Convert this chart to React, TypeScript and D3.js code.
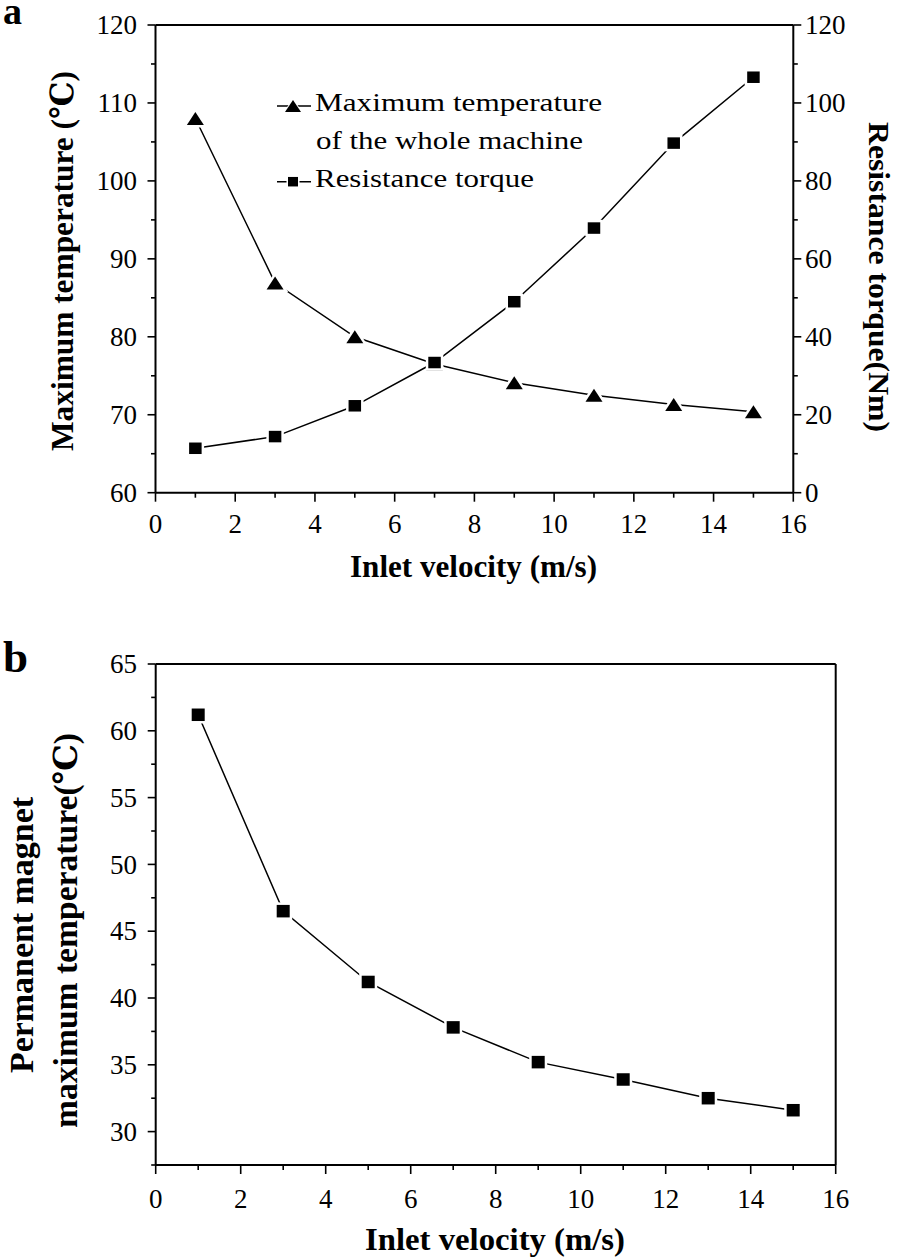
import React from "react";
import * as d3 from "d3";

// ---------- data ----------
const velocity = [1, 3, 5, 7, 9, 11, 13, 15];
const maxTempWhole = [108, 86.9, 80, 76.5, 74.1, 72.5, 71.3, 70.4];
const resistanceTorque = [11.4, 14.4, 22.3, 33.4, 49.0, 67.9, 89.7, 106.6];
const pmMaxTemp = [61.2, 46.5, 41.2, 37.8, 35.2, 33.9, 32.5, 31.6];

const xTicks = [0, 2, 4, 6, 8, 10, 12, 14, 16];
const xMinorTicks = [1, 3, 5, 7, 9, 11, 13, 15];
const leftTicksA = [60, 70, 80, 90, 100, 110, 120];
const leftMinorA = [65, 75, 85, 95, 105, 115];
const rightTicksA = [0, 20, 40, 60, 80, 100, 120];
const rightMinorA = [10, 30, 50, 70, 90, 110];
const leftTicksB = [30, 35, 40, 45, 50, 55, 60, 65];
const leftMinorB = [27.5, 32.5, 37.5, 42.5, 47.5, 52.5, 57.5, 62.5];

const FONT = "'Liberation Serif', 'Times New Roman', 'DejaVu Serif', serif";

const trianglePath = (cx: number, cy: number, w = 17, h = 13) =>
  `M${cx},${cy - h / 2}L${cx + w / 2},${cy + h / 2}L${cx - w / 2},${cy + h / 2}Z`;

const Tri = ({ x, y, halo = 5, w = 17, h = 13 }: { x: number; y: number; halo?: number; w?: number; h?: number }) => (
  <path d={trianglePath(x, y, w, h)} fill="#000" stroke="#fff" strokeWidth={halo} style={{ paintOrder: "stroke" } as any} strokeLinejoin="miter" />
);
const Sq = ({ x, y, w = 12.5, h = 11.5, halo = 5 }: { x: number; y: number; w?: number; h?: number; halo?: number }) => (
  <rect x={x - w / 2} y={y - h / 2} width={w} height={h} fill="#000" stroke="#fff" strokeWidth={halo} style={{ paintOrder: "stroke" } as any} />
);

export default function App() {
  // Panel a scales
  const xA = d3.scaleLinear().domain([0, 16]).range([155.5, 793.3]);
  const yAL = d3.scaleLinear().domain([60, 120]).range([492.7, 25]);
  const yAR = d3.scaleLinear().domain([0, 120]).range([492.7, 25]);
  // Panel b scales
  const xB = d3.scaleLinear().domain([0, 16]).range([155.7, 835.7]);
  const yB = d3.scaleLinear().domain([27.5, 65]).range([1165, 664]);

  const line = d3.line<[number, number]>().x((d) => d[0]).y((d) => d[1]);

  const triPts: [number, number][] = velocity.map((v, i) => [xA(v), yAL(maxTempWhole[i])]);
  const sqPts: [number, number][] = velocity.map((v, i) => [xA(v), yAR(resistanceTorque[i])]);
  const bPts: [number, number][] = velocity.map((v, i) => [xB(v), yB(pmMaxTemp[i])]);

  const axisW = 2;
  const tickStyle = { stroke: "#000", strokeWidth: 1.6 };

  const [a0, a1] = xA.range();
  const [aBot, aTop] = yAL.range();
  const [b0, b1] = xB.range();
  const [bBot, bTop] = yB.range();

  return (
    <svg
      width={898}
      height={1259}
      style={{ position: "absolute", left: 0, top: 0, background: "#fff" }}
      fontFamily={FONT}
    >
      <rect x={0} y={0} width={898} height={1259} fill="#fff" />

      {/* ================= Panel a ================= */}
      <text x={3} y={24} fontSize={38} fontWeight="bold">a</text>

      {/* frame */}
      <g stroke="#000" strokeWidth={axisW} fill="none">
        <line x1={a0} x2={a1} y1={aTop} y2={aTop} />
        <line x1={a0} x2={a1} y1={aBot} y2={aBot} />
        <line x1={a0} x2={a0} y1={aTop} y2={aBot} />
        <line x1={a1} x2={a1} y1={aTop} y2={aBot} />
      </g>

      {/* bottom ticks a */}
      {xTicks.map((t) => (
        <g key={"xa" + t}>
          <line x1={xA(t)} x2={xA(t)} y1={aBot} y2={aBot + 9} {...tickStyle} />
          <text x={xA(t)} y={533} fontSize={27} textAnchor="middle">{t}</text>
        </g>
      ))}
      {xMinorTicks.map((t) => (
        <line key={"xam" + t} x1={xA(t)} x2={xA(t)} y1={aBot} y2={aBot + 5} {...tickStyle} />
      ))}

      {/* left ticks a */}
      {leftTicksA.map((t) => (
        <g key={"la" + t}>
          <line x1={a0 - 8} x2={a0} y1={yAL(t)} y2={yAL(t)} {...tickStyle} />
          <text x={137} y={yAL(t)} dy="0.34em" fontSize={27} textAnchor="end">{t}</text>
        </g>
      ))}
      {leftMinorA.map((t) => (
        <line key={"lam" + t} x1={a0 - 4.5} x2={a0} y1={yAL(t)} y2={yAL(t)} {...tickStyle} />
      ))}

      {/* right ticks a */}
      {rightTicksA.map((t) => (
        <g key={"ra" + t}>
          <line x1={a1} x2={a1 + 8} y1={yAR(t)} y2={yAR(t)} {...tickStyle} />
          <text x={805} y={yAR(t)} dy="0.34em" fontSize={27} textAnchor="start">{t}</text>
        </g>
      ))}
      {rightMinorA.map((t) => (
        <line key={"ram" + t} x1={a1} x2={a1 + 4.5} y1={yAR(t)} y2={yAR(t)} {...tickStyle} />
      ))}

      {/* axis titles a */}
      <text x={473.5} y={576.7} fontSize={32} fontWeight="bold" textAnchor="middle" textLength={247} lengthAdjust="spacingAndGlyphs">
        Inlet velocity (m/s)
      </text>
      <text transform="translate(73,261) rotate(-90)" fontSize={32} fontWeight="bold" textAnchor="middle" textLength={380} lengthAdjust="spacingAndGlyphs">
        Maximum temperature (℃)
      </text>
      <text transform="translate(869,277) rotate(90)" fontSize={30} fontWeight="bold" textAnchor="middle" textLength={310} lengthAdjust="spacingAndGlyphs">
        Resistance torque(Nm)
      </text>

      {/* series a */}
      <path d={line(triPts) || ""} fill="none" stroke="#000" strokeWidth={1.5} />
      {triPts.map((p, i) => <Tri key={"t" + i} x={p[0]} y={p[1]} />)}
      <path d={line(sqPts) || ""} fill="none" stroke="#000" strokeWidth={1.5} />
      {sqPts.map((p, i) => <Sq key={"s" + i} x={p[0]} y={p[1]} />)}

      {/* legend a */}
      <line x1={277} x2={311} y1={106} y2={106} stroke="#000" strokeWidth={1.5} />
      <Tri x={293} y={106} halo={2} w={16} h={12} />
      <text x={315} y={111} fontSize={26} textLength={287} lengthAdjust="spacingAndGlyphs">Maximum temperature</text>
      <text x={316} y={148.5} fontSize={26} textLength={267} lengthAdjust="spacingAndGlyphs">of the whole machine</text>
      <line x1={277} x2={311} y1={181.7} y2={181.7} stroke="#000" strokeWidth={1.5} />
      <Sq x={293} y={181.7} w={10} h={9.5} halo={3} />
      <text x={315} y={186.5} fontSize={26} textLength={219} lengthAdjust="spacingAndGlyphs">Resistance torque</text>

      {/* ================= Panel b ================= */}
      <text x={3} y={671.7} fontSize={45} fontWeight="bold">b</text>

      <g stroke="#000" strokeWidth={axisW} fill="none">
        <line x1={b0} x2={b1} y1={bTop} y2={bTop} />
        <line x1={b0} x2={b1} y1={bBot} y2={bBot} />
        <line x1={b0} x2={b0} y1={bTop} y2={bBot} />
        <line x1={b1} x2={b1} y1={bTop} y2={bBot} />
      </g>

      {xTicks.map((t) => (
        <g key={"xb" + t}>
          <line x1={xB(t)} x2={xB(t)} y1={bBot} y2={bBot + 9} {...tickStyle} />
          <text x={xB(t)} y={1208} fontSize={27} textAnchor="middle">{t}</text>
        </g>
      ))}
      {xMinorTicks.map((t) => (
        <line key={"xbm" + t} x1={xB(t)} x2={xB(t)} y1={bBot} y2={bBot + 5} {...tickStyle} />
      ))}

      {leftTicksB.map((t) => (
        <g key={"lb" + t}>
          <line x1={b0 - 8} x2={b0} y1={yB(t)} y2={yB(t)} {...tickStyle} />
          <text x={137} y={yB(t)} dy="0.34em" fontSize={27} textAnchor="end">{t}</text>
        </g>
      ))}
      {leftMinorB.map((t) => (
        <line key={"lbm" + t} x1={b0 - 4.5} x2={b0} y1={yB(t)} y2={yB(t)} {...tickStyle} />
      ))}

      <text x={495} y={1250} fontSize={32} fontWeight="bold" textAnchor="middle" textLength={260} lengthAdjust="spacingAndGlyphs">
        Inlet velocity (m/s)
      </text>
      <text transform="translate(33,935) rotate(-90)" fontSize={33} fontWeight="bold" textAnchor="middle" textLength={276} lengthAdjust="spacingAndGlyphs">
        Permanent magnet
      </text>
      <text transform="translate(77,930.5) rotate(-90)" fontSize={33} fontWeight="bold" textAnchor="middle" textLength={395} lengthAdjust="spacingAndGlyphs">
        maximum temperature(℃)
      </text>

      <path d={line(bPts) || ""} fill="none" stroke="#000" strokeWidth={1.5} />
      {bPts.map((p, i) => <Sq key={"b" + i} x={p[0]} y={p[1]} w={13} h={12.5} />)}
    </svg>
  );
}
